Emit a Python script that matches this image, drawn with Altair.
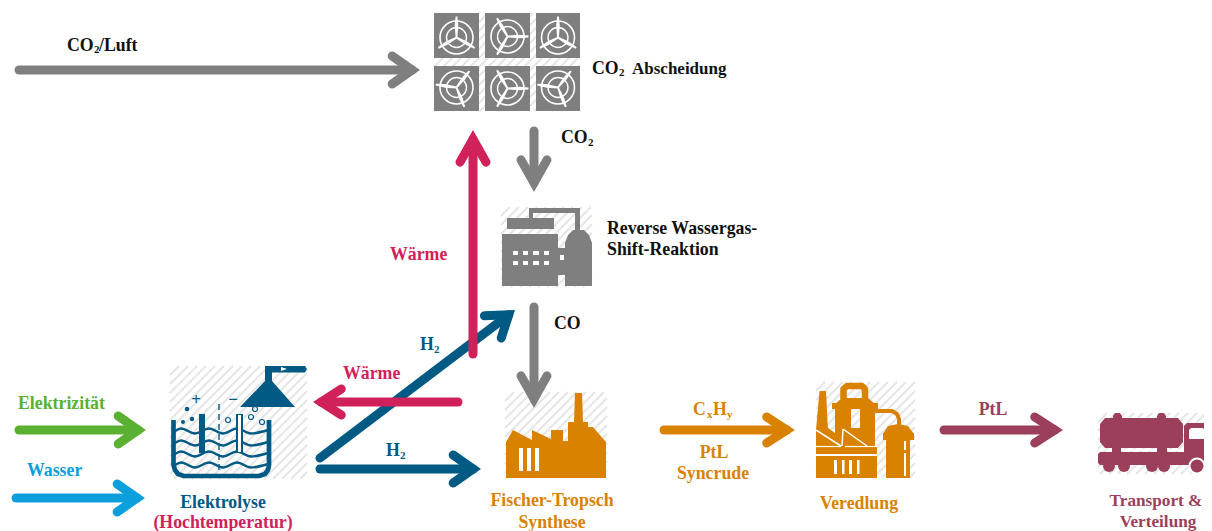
import math
import altair as alt
import pandas as pd

GREY = "#7f7f7f"; RED = "#d0215b"; BLUE = "#005a84"; GREEN = "#5ab031"
SKY = "#0b9fdc"; ORANGE = "#d98200"; MAROON = "#9c3f5a"; INK = "#111111"
WHITE = "#ffffff"; HATCH = "#e6e6e6"

# start x, start y, tip x, tip y, colour, line width, head length, head half width
ARROWS = [
    (19, 70, 420, 70, GREY, 9, 20, 14),
    (534, 131, 534, 192, GREY, 9, 23, 13),
    (534, 307, 534, 408, GREY, 9, 23, 13),
    (320, 458, 515, 310, BLUE, 9, 20, 14),
    (320, 469, 481, 469, BLUE, 9, 20, 14),
    (19, 430, 146, 430, GREEN, 9, 20, 14),
    (16, 498, 145, 498, SKY, 9, 20, 14),
    (664, 430, 795, 430, ORANGE, 9, 20, 13),
    (944, 430, 1063, 430, MAROON, 9, 20, 13),
    (473, 354, 473, 130, RED, 9, 23, 13),
    (458, 402, 313, 402, RED, 9, 20, 13),
]

# left, right, top, bottom of the hatched icon backgrounds
HATCH_BOXES = [
    (434, 580, 13, 111), (501, 592, 207, 287), (170, 307, 366, 479),
    (505, 607, 392, 478), (816, 915, 382, 478), (1098, 1212, 413, 474),
]

# left, right, top, bottom, rotation, hub offset of the six fan tiles
FAN_TILES = [
    (434, 479, 13, 58, 90, 2), (485, 530, 13, 58, 0, 1), (536, 580, 13, 58, 90, 2),
    (434, 479, 66, 111, 172, -1), (485, 530, 66, 111, 0, 0), (536, 580, 66, 111, 172, -1),
]

BASE_POLYS = [
    # reverse water gas shift plant
    (GREY, [(507, 218), (554, 218), (554, 229), (507, 229)]),
    (GREY, [(529, 208), (580, 208), (580, 213), (529, 213)]),
    (GREY, [(529, 208), (533, 208), (533, 218), (529, 218)]),
    (GREY, [(575, 208), (580, 208), (580, 232), (575, 232)]),
    (GREY, [(502, 234), (558, 234), (558, 286), (502, 286)]),
    (GREY, [(558, 248), (566, 248), (566, 275), (558, 275)]),
    (GREY, [(565, 286), (565, 243), (568, 235), (573, 230), (584, 230), (589, 235), (592, 243), (592, 286)]),
    # electrolysis hood
    (BLUE, [(240, 407), (265, 381), (272, 381), (295, 407)]),
    (BLUE, [(265, 367), (272, 367), (272, 382), (265, 382)]),
    (BLUE, [(265, 366), (305, 366), (307, 369), (305, 372.5), (265, 372.5)]),
    (BLUE, [(199, 414), (205, 414), (205, 453), (199, 453)]),
    # Fischer-Tropsch factory
    (ORANGE, [(506, 478), (506, 442), (513, 430), (532, 440), (532, 430), (551, 439), (551, 430),
              (563, 430), (563, 441), (568, 441), (568, 422), (574, 422), (575, 393), (582, 393),
              (583, 422), (588, 422), (588, 427), (593, 427), (606, 442), (606, 478)]),
    # refinery
    (ORANGE, [(819.5, 391), (826, 391), (828, 430), (816, 430)]),
    (ORANGE, [(816, 428), (828, 428), (835, 433), (835, 446), (816, 446)]),
    (ORANGE, [(851, 428), (860, 428), (860, 446), (851, 446)]),
    (ORANGE, [(816, 446), (877, 446), (877, 478), (816, 478)]),
    (ORANGE, [(835, 408), (851, 408), (851, 447), (835, 447)]),
    (ORANGE, [(860, 408), (875, 408), (875, 447), (860, 447)]),
    (ORANGE, [(835, 404), (842, 398), (868, 398), (875, 404)]),
    (ORANGE, [(832, 403), (878, 403), (878, 409), (832, 409)]),
    (ORANGE, [(883, 434), (888, 426), (898, 424), (908, 426), (914, 434)]),
    (ORANGE, [(883, 433), (914, 433), (914, 440), (883, 440)]),
    (ORANGE, [(886, 440), (910, 440), (910, 478), (886, 478)]),
    # truck
    (MAROON, [(1100, 424), (1105, 418), (1178, 418), (1183, 424), (1183, 442), (1178, 448), (1105, 448), (1100, 442)]),
    (MAROON, [(1113, 416), (1115, 413), (1120, 413), (1122, 416), (1122, 419), (1113, 419)]),
    (MAROON, [(1157, 416), (1159, 413), (1164, 413), (1166, 416), (1166, 419), (1157, 419)]),
    (MAROON, [(1112, 447), (1121, 447), (1121, 453), (1112, 453)]),
    (MAROON, [(1157, 447), (1167, 447), (1167, 453), (1157, 453)]),
    (MAROON, [(1098, 454), (1100, 452), (1212, 452), (1212, 465), (1100, 465), (1098, 463)]),
    (MAROON, [(1184, 426), (1187, 423), (1205, 423), (1212, 431), (1212, 453), (1184, 453)]),
]

WHITE_POLYS = [
    # plant windows
    (WHITE, [(513, 251), (518, 251), (518, 255), (513, 255)]),
    (WHITE, [(523, 251), (528, 251), (528, 255), (523, 255)]),
    (WHITE, [(533, 251), (539, 251), (539, 255), (533, 255)]),
    (WHITE, [(544, 251), (549, 251), (549, 255), (544, 255)]),
    (WHITE, [(513, 261), (518, 261), (518, 265), (513, 265)]),
    (WHITE, [(523, 261), (528, 261), (528, 265), (523, 265)]),
    (WHITE, [(533, 261), (539, 261), (539, 265), (533, 265)]),
    (WHITE, [(544, 261), (549, 261), (549, 265), (544, 265)]),
    (WHITE, [(560, 255), (564, 255), (564, 260), (560, 260)]),
    # factory windows
    (WHITE, [(519, 448), (523, 448), (523, 471), (519, 471)]),
    (WHITE, [(527, 448), (531, 448), (531, 471), (527, 471)]),
    (WHITE, [(535, 448), (539, 448), (539, 471), (535, 471)]),
    # refinery slits
    (WHITE, [(834, 460), (837, 460), (837, 474), (834, 474)]),
    (WHITE, [(842, 460), (844.5, 460), (844.5, 474), (842, 474)]),
    (WHITE, [(849, 460), (852, 460), (852, 474), (849, 474)]),
    (WHITE, [(857, 460), (859.5, 460), (859.5, 474), (857, 474)]),
    (WHITE, [(904, 441), (906, 441), (906, 450), (904, 450)]),
    (WHITE, [(904, 453), (906, 453), (906, 476), (904, 476)]),
    # truck window, hood marker, right electrode
    (WHITE, [(1189, 430), (1191, 428), (1203, 428), (1209, 435), (1209, 439), (1189, 439)]),
    (WHITE, [(281, 367), (287, 369), (281, 371)]),
    (BLUE, [(236, 414), (243, 414), (243, 453), (236, 453)]),
    (WHITE, [(238, 415), (241, 415), (241, 452), (238, 452)]),
]

# solid structural strokes: colour, width, points
STRUCT_LINES = [
    (BLUE, 4.7, [(173.5, 420), (173.5, 465), (175, 470), (178, 474), (184, 476),
                 (259, 476), (265, 474), (268, 470), (269, 465), (269, 420)]),
    (ORANGE, 6.5, [(843.5, 399), (843.5, 389), (847, 386), (862, 386), (865, 389), (865, 399)]),
    (ORANGE, 4, [(874, 411), (892, 411), (897, 414), (899, 419), (899, 426)]),
]

WHITE_LINES = [
    (WHITE, 1.5, [(816, 430), (841, 446)]),
    (WHITE, 1.5, [(843, 429), (867, 446)]),
    (WHITE, 1.5, [(843, 429), (842, 446)]),
    (WHITE, 1.2, [(816, 446.5), (841, 446.5)]),
    (WHITE, 1.2, [(845, 446.5), (877, 446.5)]),
    (WHITE, 2, [(816, 455), (877, 455)]),
    (WHITE, 1.5, [(1106, 450), (1112, 450)]),
    (WHITE, 1.5, [(1122, 450), (1156, 450)]),
    (WHITE, 1.5, [(1168, 450), (1183, 450)]),
]

WAVE_Y = [431, 443, 454, 465]
WAVE_DX = [175, 181, 195, 209, 223, 237, 251, 268]
WAVE_DY = [0, -2.5, 2.5, -2.5, 2.5, -2.5, 2.5, -1]

# x, y, diameter
BLUE_DOTS = [(187, 409, 4.5), (192, 419, 4.5), (183, 422, 4)]
TRUCK_WHEELS = [(1109, 466, 12), (1124, 466, 12), (1152, 466, 12), (1164, 466, 12)]
OPEN_BUBBLES = [(228, 420, 5), (251, 417, 5), (262, 422, 5), (255, 409, 5)]

BIG = 17.8
SUB = 11
# text, x, y, colour, size
LEFT_TEXT = [
    ("CO", 67, 45, INK, BIG), ("2", 94, 49, INK, SUB), ("/Luft", 99, 45, INK, BIG),
    ("CO", 592, 68, INK, BIG), ("2", 619, 72, INK, SUB), ("Abscheidung", 632, 68, INK, 17),
    ("CO", 561, 137, INK, BIG), ("2", 588, 142, INK, SUB),
    ("Reverse Wassergas-", 607, 228, INK, BIG), ("Shift-Reaktion", 607, 249, INK, BIG),
    ("CO", 554, 323, INK, BIG),
    ("Wärme", 390, 254, RED, BIG), ("Wärme", 343, 373, RED, BIG),
    ("H", 420, 344, BLUE, BIG), ("2", 434, 349, BLUE, SUB),
    ("H", 386, 450, BLUE, BIG), ("2", 400, 455, BLUE, SUB),
    ("Elektrizität", 18, 403, GREEN, BIG), ("Wasser", 27, 470, SKY, BIG),
    ("C", 693, 409, ORANGE, BIG), ("x", 707, 414, ORANGE, SUB),
    ("H", 713, 409, ORANGE, BIG), ("y", 727, 414, ORANGE, SUB),
]
CENTER_TEXT = [
    ("Elektrolyse", 223, 502, BLUE, BIG), ("(Hochtemperatur)", 223, 521.5, RED, BIG),
    ("Fischer-Tropsch", 552, 500, ORANGE, BIG), ("Synthese", 552, 521.5, ORANGE, BIG),
    ("PtL", 714, 452, ORANGE, BIG), ("Syncrude", 713, 473, ORANGE, BIG),
    ("Veredlung", 859, 503, ORANGE, BIG), ("PtL", 993, 409, MAROON, BIG),
    ("Transport &", 1156, 500, MAROON, 17.2), ("Verteilung", 1158, 521, MAROON, 17.2),
    ("+", 196, 399, BLUE, 17), ("−", 233, 399, BLUE, 17),
]

X = alt.X("x:Q", scale=alt.Scale(domain=[8, 1204]), axis=None)
Y = alt.Y("y:Q", scale=alt.Scale(domain=[531, 8]), axis=None, stack=None)
COLOR = alt.Color("c:N", scale=None)


def poly_rows(polys, prefix):
    rows = []
    for i, (color, pts) in enumerate(polys):
        xs = sorted({p[0] for p in pts})
        for vx in xs:
            for probe in (vx - 1e-3, vx + 1e-3):
                if probe < xs[0] or probe > xs[-1]:
                    continue
                ys = []
                for (x0, y0), (x1, y1) in zip(pts, pts[1:] + pts[:1]):
                    if x0 != x1 and min(x0, x1) <= probe <= max(x0, x1):
                        ys.append(y0 + (y1 - y0) * (probe - x0) / (x1 - x0))
                rows.append(dict(g=f"{prefix}{i:04d}", x=probe, y=min(ys), yb=max(ys), c=color))
    return rows


def line_rows(lines, prefix):
    rows = []
    for i, (color, width, pts) in enumerate(lines):
        for j, (px, py) in enumerate(pts):
            rows.append(dict(g=f"{prefix}{i:04d}", s=j, x=px, y=py, c=color, w=width))
    return rows


def area_layer(polys, prefix):
    return alt.Chart(pd.DataFrame(poly_rows(polys, prefix))).mark_area(opacity=1, orient="vertical").encode(
        x=X, y=Y, y2=alt.Y2("yb"), color=COLOR, detail="g:N")


def line_layer(lines, prefix, **mark):
    opts = dict(strokeCap="round", strokeJoin="miter", strokeMiterLimit=10)
    opts.update(mark)
    return alt.Chart(pd.DataFrame(line_rows(lines, prefix))).mark_line(**opts).encode(
        x=X, y=Y, color=COLOR, detail="g:N", order="s:Q",
        strokeWidth=alt.StrokeWidth("w:Q", scale=None))


def dots(points, color):
    df = pd.DataFrame([dict(x=a, y=b, s=d * d, c=color) for a, b, d in points])
    return alt.Chart(df).mark_circle(opacity=1).encode(
        x=X, y=Y, color=COLOR, size=alt.Size("s:Q", scale=None))


def rings(points, color, width):
    df = pd.DataFrame([dict(x=a, y=b, s=d * d, c=color) for a, b, d in points])
    return alt.Chart(df).mark_point(filled=False, opacity=1, strokeWidth=width).encode(
        x=X, y=Y, color=COLOR, size=alt.Size("s:Q", scale=None))


def text_layer(items, align):
    df = pd.DataFrame([dict(t=t, x=a, y=b + 1, c=c, z=z) for t, a, b, c, z in items])
    return alt.Chart(df).mark_text(font="Liberation Serif", fontWeight="bold", align=align, baseline="middle").encode(
        x=X, y=Y, text="t:N", color=COLOR, size=alt.Size("z:Q", scale=None))


# hatching
hatch_lines = []
for left, right, top, bottom in HATCH_BOXES:
    c = left + top
    while c < right + bottom:
        c += 9
        a = (max(left, c - bottom), min(bottom, c - max(left, c - bottom)))
        b = (min(right, c - top), max(top, c - min(right, c - top)))
        if a[0] < b[0]:
            hatch_lines.append((HATCH, 2.2, [a, b]))

# arrows
arrow_lines = []
for x0, y0, x1, y1, color, width, hl, hw in ARROWS:
    length = math.hypot(x1 - x0, y1 - y0)
    ux, uy = (x1 - x0) / length, (y1 - y0) / length
    px, py = -uy, ux
    ext = (width / 2) * math.hypot(hl, hw) / hw
    vx, vy = x1 - ux * ext, y1 - uy * ext
    arrow_lines.append((color, width, [(x0, y0), (vx, vy)]))
    arrow_lines.append((color, width, [
        (vx - ux * hl + px * hw, vy - uy * hl + py * hw),
        (vx, vy),
        (vx - ux * hl - px * hw, vy - uy * hl - py * hw),
    ]))

# fan tiles
tile_polys, blade_polys, fan_rings_outer, fan_rings_inner = [], [], [], []
for left, right, top, bottom, rot, dy in FAN_TILES:
    tile_polys.append((GREY, [(left, top), (right, top), (right, bottom), (left, bottom)]))
    cx, cy = (left + right) / 2, (top + bottom) / 2 + dy
    fan_rings_outer.append((cx, cy, 33))
    fan_rings_inner.append((cx, cy, 20))
    for k in range(3):
        ang = math.radians(rot + 120 * k)
        ux, uy = math.cos(ang), -math.sin(ang)
        px, py = -uy, ux
        blade_polys.append((WHITE, [
            (cx + px * 0.9, cy + py * 0.9),
            (cx + ux * 12 + px * 1.8, cy + uy * 12 + py * 1.8),
            (cx + ux * 21 + px * 0.9, cy + uy * 21 + py * 0.9),
            (cx + ux * 21 - px * 0.9, cy + uy * 21 - py * 0.9),
            (cx + ux * 12 - px * 1.8, cy + uy * 12 - py * 1.8),
            (cx - px * 0.9, cy - py * 0.9),
        ]))

# waves
wave_lines = [(BLUE, 2.4, [(a, wy + b) for a, b in zip(WAVE_DX, WAVE_DY)]) for wy in WAVE_Y]
membrane = [(BLUE, 1.4, [(219, 404), (219, 474)])]

layers = [
    line_layer(hatch_lines, "h", strokeCap="butt"),
    area_layer(tile_polys, "t"),
    rings(fan_rings_outer, WHITE, 1.6),
    rings(fan_rings_inner, WHITE, 1.4),
    area_layer(blade_polys, "b"),
    rings(OPEN_BUBBLES, BLUE, 1.2),
    area_layer(BASE_POLYS, "p"),
    dots(TRUCK_WHEELS, MAROON),
    dots([(1197, 466, 17)], WHITE),
    dots([(1197, 466, 13)], MAROON),
    line_layer(STRUCT_LINES, "s", strokeCap="butt", strokeJoin="round"),
    line_layer(wave_lines, "w", interpolate="monotone"),
    line_layer(membrane, "m", strokeCap="butt", strokeDash=[6, 4]),
    area_layer(WHITE_POLYS, "q"),
    line_layer(WHITE_LINES, "x", strokeCap="butt"),
    dots(BLUE_DOTS, BLUE),
    line_layer(arrow_lines, "a"),
    text_layer(LEFT_TEXT, "left"),
    text_layer(CENTER_TEXT, "center"),
]

chart = alt.layer(*layers).properties(
    width=1196, height=523, padding=0,
    autosize=alt.AutoSizeParams(type="none"),
).configure_view(stroke=None)

chart.save("out.html", embed_options={"renderer": "svg", "actions": False})
